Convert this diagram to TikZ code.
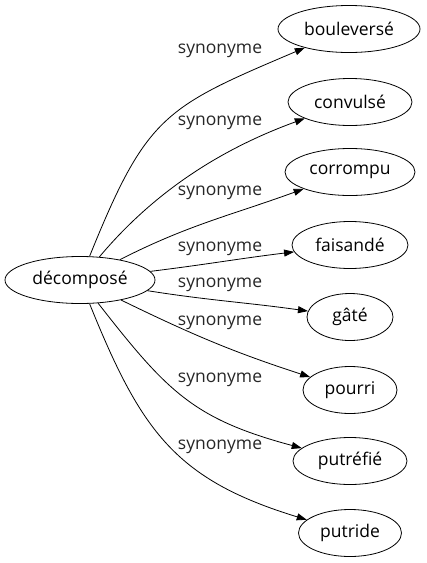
\documentclass[tikz,border=0pt]{standalone}
\usepackage{fontspec}
\setmainfont{Open Sans}
\usetikzlibrary{arrows.meta,shapes.geometric}
\begin{document}
\begin{tikzpicture}[x=1pt,y=-1pt,
  word/.style={ellipse,draw,line width=0.8pt,inner sep=0pt,minimum height=47pt,font=\fontsize{17.5}{20}\selectfont},
  lbl/.style={inner sep=0pt,font=\fontsize{17.5}{20}\selectfont,text=black!85},
  link/.style={line width=0.8pt,-{Triangle[length=10pt,width=7pt]}}]
\useasboundingbox (0,0) rectangle (427,563);
\node[word,minimum width=150pt] (c) at (80,280) {décomposé};
\node[word,minimum width=142pt] (n1) at (349,29) {bouleversé};
\node[word,minimum width=124pt] (n2) at (350,102) {convulsé};
\node[word,minimum width=130pt] (n3) at (350,172) {corrompu};
\node[word,minimum width=116pt] (n4) at (350,245) {faisandé};
\node[word,minimum width=86pt] (n5) at (350,317) {gâté};
\node[word,minimum width=94pt] (n6) at (350,390) {pourri};
\node[word,minimum width=114pt] (n7) at (350,461) {putréfié};
\node[word,minimum width=103pt] (n8) at (350,533) {putride};
\node[lbl] (l1) at (220,51) {synonyme};
\node[lbl] (l2) at (220,123) {synonyme};
\node[lbl] (l3) at (220,193) {synonyme};
\node[lbl] (l4) at (220,249) {synonyme};
\node[lbl] (l5) at (220,285) {synonyme};
\node[lbl] (l6) at (220,323) {synonyme};
\node[lbl] (l7) at (220,380) {synonyme};
\node[lbl] (l8) at (220,447) {synonyme};
\draw[link] (c) to[out=68,in=203,looseness=1.3] (n1);
\draw[link] (c) to[out=50,in=200,looseness=0.9] (n2);
\draw[link] (c) to[out=27,in=200] (n3);
\draw[link] (c) to[out=7,in=187] (n4);
\draw[link] (c) to[out=-9,in=172] (n5);
\draw[link] (c) to[out=-26,in=162] (n6);
\draw[link] (c) to[out=-52,in=165,looseness=1.15] (n7);
\draw[link] (c) to[out=-68,in=163,looseness=1.15] (n8);
\end{tikzpicture}
\end{document}
